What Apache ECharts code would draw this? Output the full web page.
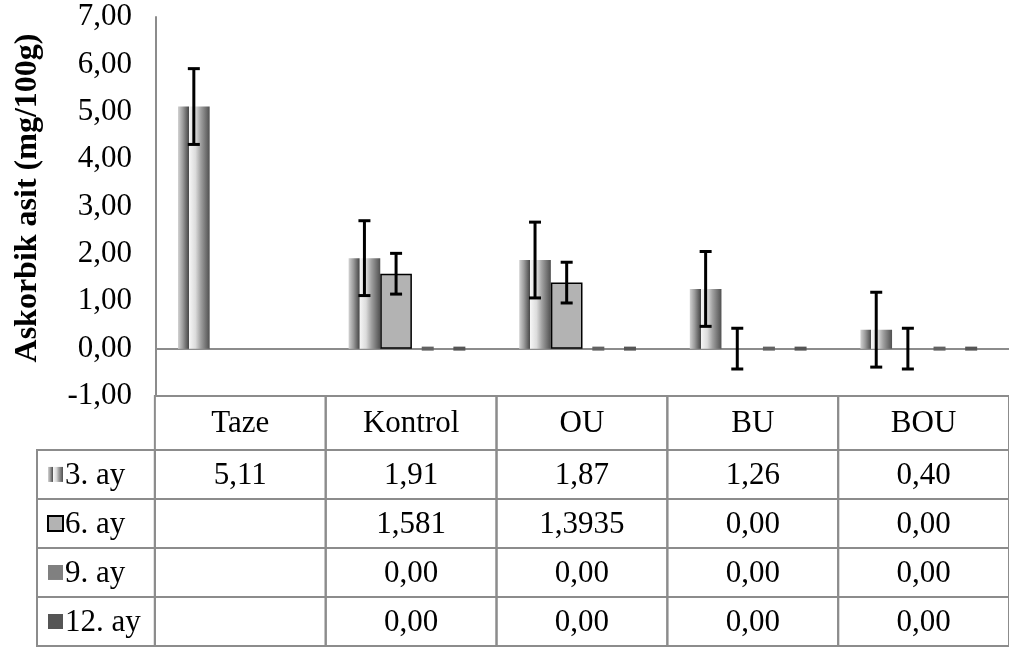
<!DOCTYPE html>
<html><head><meta charset="utf-8">
<script src="https://cdn.jsdelivr.net/npm/echarts@6/dist/echarts.min.js"></script>
<style>html,body{margin:0;padding:0;background:#fff}#c{width:1009px;height:650px}</style>
</head><body><div id="c"></div>
<script>
// ---- data ----
const categories = ['Taze', 'Kontrol', 'OU', 'BU', 'BOU'];
const seriesNames = ['3. ay', '6. ay', '9. ay', '12. ay'];
const ay3 = [5.11, 1.91, 1.87, 1.26, 0.40];
const ay6 = [null, 1.581, 1.3935, 0, 0];
const ay9 = [null, 0, 0, 0, 0];
const ay12 = [null, 0, 0, 0, 0];
const err3 = [0.80, 0.79, 0.80, 0.79, 0.79];
const err6 = [null, 0.43, 0.43, 0.43, 0.43];
const yMin = -1, yMax = 7, yStep = 1;
const yTitle = 'Askorbik asit (mg/100g)';

// ---- style ----
const FONT = '"Liberation Serif", "Times New Roman", serif';
const GAP = 0.258;
const GRID_LINE = '#8c8c8c';
const grad = () => new echarts.graphic.LinearGradient(0, 0, 1, 0, [
  {offset: 0, color: '#d2d2d2'},
  {offset: 0.15, color: '#9c9c9c'},
  {offset: 0.31, color: '#555555'},
  {offset: 0.34, color: '#4a4a4a'},
  {offset: 0.35, color: '#f6f6f6'},
  {offset: 0.55, color: '#dcdcdc'},
  {offset: 0.72, color: '#a0a0a0'},
  {offset: 1, color: '#505050'}
]);
const seriesData = [ay3, ay6, ay9, ay12];
const errData = [err3, err6, null, null];
const fills = [grad(), '#b3b3b3', '#808080', '#555555'];
const dashColors = [null, null, '#626262', '#555555'];

function fmt(v) {
  let s = v.toFixed(2);
  if (Number(s) !== v) s = String(v);
  return s.replace('.', ',');
}

// table cells
const cells = [];
categories.forEach((c, i) => cells.push({col: i, row: 0, text: c}));
seriesNames.forEach((n, s) => {
  cells.push({col: -1, row: s + 1, text: n, icon: s});
  seriesData[s].forEach((v, i) => cells.push({col: i, row: s + 1, text: v == null ? '' : fmt(v)}));
});
const rowTop = r => r === 0 ? 0 : 1.1 + (r - 1);
const rowBot = r => r === 0 ? 1.1 : 1.1 + r;
const LEG_W = 0.69;

const chart = echarts.init(document.getElementById('c'), null, {renderer: 'canvas'});

const bars = seriesData.map((arr, s) => ({
  type: 'bar', name: seriesNames[s], xAxisIndex: 0, yAxisIndex: 0,
  barGap: '0%', barCategoryGap: (GAP * 100) + '%',
  data: arr.map(v => (s === 1 && v === 0) ? {value: 0, itemStyle: {borderWidth: 0}} : v),
  itemStyle: s === 1 ? {color: fills[s], borderColor: '#000', borderWidth: 1.5} : {color: fills[s]},
  z: 2
}));

const errItems = [];
errData.forEach((e, s) => {
  if (!e) return;
  e.forEach((ev, i) => {
    const v = seriesData[s][i];
    if (ev != null && v != null) errItems.push([i, v, ev, s]);
  });
});

const dashItems = [];
seriesData.forEach((arr, s) => {
  if (!dashColors[s]) return;
  arr.forEach((v, i) => { if (v === 0) dashItems.push([i, 0, s]); });
});

function barCenter(api, c, v, s) {
  const catW = api.size([1, 0])[0];
  const bw = catW * (1 - GAP) / 4;
  return api.coord([c, v])[0] + (s - 1.5) * bw;
}

const option = {
  animation: false,
  backgroundColor: '#fff',
  grid: [
    {left: 156, right: -10, top: 17, bottom: 254},
    {left: 37, right: -10, top: 396, bottom: 4}
  ],
  xAxis: [
    {type: 'category', gridIndex: 0, data: categories,
     axisLine: {onZero: true, lineStyle: {color: GRID_LINE, width: 2}},
     axisTick: {show: false}, axisLabel: {show: false}, splitLine: {show: false}},
    {type: 'value', gridIndex: 1, min: -LEG_W, max: 5, show: false}
  ],
  yAxis: [
    {type: 'value', gridIndex: 0, min: yMin, max: yMax, interval: yStep,
     axisLine: {show: true, lineStyle: {color: GRID_LINE, width: 2}},
     axisTick: {show: false}, splitLine: {show: false},
     axisLabel: {margin: 24, color: '#000', fontFamily: FONT, fontSize: 31, formatter: v => fmt(v)}},
    {type: 'value', gridIndex: 1, min: 0, max: 5.1, inverse: true, show: false}
  ],
  graphic: [{
    type: 'text', x: 28, y: 198, rotation: Math.PI / 2,
    style: {text: yTitle, align: 'center', verticalAlign: 'middle',
            font: 'bold 32px ' + FONT, fill: '#000'}
  }],
  series: bars.concat([
    {
      type: 'custom', xAxisIndex: 0, yAxisIndex: 0, z: 5,
      data: errItems,
      renderItem: (params, api) => {
        const c = api.value(0), v = api.value(1), e = api.value(2), s = api.value(3);
        const cx = barCenter(api, c, v, s);
        const yt = api.coord([c, v + e])[1], yb = api.coord([c, v - e])[1];
        const st = {stroke: '#000', lineWidth: 3};
        return {type: 'group', children: [
          {type: 'line', shape: {x1: cx, y1: yt, x2: cx, y2: yb}, style: st},
          {type: 'line', shape: {x1: cx - 6, y1: yt, x2: cx + 6, y2: yt}, style: st},
          {type: 'line', shape: {x1: cx - 6, y1: yb, x2: cx + 6, y2: yb}, style: st}
        ]};
      }
    },
    {
      type: 'custom', xAxisIndex: 0, yAxisIndex: 0, z: 4,
      data: dashItems,
      renderItem: (params, api) => {
        const c = api.value(0), v = api.value(1), s = api.value(2);
        const cx = barCenter(api, c, v, s);
        const y = api.coord([c, v])[1];
        return {type: 'rect', shape: {x: cx - 6, y: y - 2, width: 12, height: 4},
                style: {fill: dashColors[s]}};
      }
    },
    {
      type: 'custom', xAxisIndex: 1, yAxisIndex: 1, z: 3,
      data: cells.map((c, k) => [c.col === -1 ? -LEG_W / 2 : c.col + 0.5, c.row + 0.5, k]),
      renderItem: (params, api) => {
        const cell = cells[api.value(2)];
        const xa = cell.col === -1 ? -LEG_W : cell.col;
        const xb = cell.col === -1 ? 0 : cell.col + 1;
        const p0 = api.coord([xa, rowTop(cell.row)]);
        const p1 = api.coord([xb, rowBot(cell.row)]);
        const x = p0[0], y = p0[1], w = p1[0] - p0[0], h = p1[1] - p0[1];
        const ch = [
          {type: 'rect', shape: {x, y, width: w, height: h},
           style: {fill: 'none', stroke: GRID_LINE, lineWidth: 2}}
        ];
        const font = '31px ' + FONT;
        if (cell.icon != null) {
          const s = cell.icon;
          ch.push({type: 'rect', shape: {x: x + 11, y: y + h / 2 - 7.5, width: 15, height: 15},
                   style: s === 1 ? {fill: fills[s], stroke: '#000', lineWidth: 2} : {fill: fills[s]}});
          ch.push({type: 'text', style: {text: cell.text, x: x + 28, y: y + h / 2 + 1,
                   align: 'left', verticalAlign: 'middle', font, fill: '#000'}});
        } else if (cell.text) {
          ch.push({type: 'text', style: {text: cell.text, x: x + w / 2, y: y + h / 2 + 1,
                   align: 'center', verticalAlign: 'middle', font, fill: '#000'}});
        }
        return {type: 'group', children: ch};
      }
    }
  ])
};
chart.setOption(option);
</script>
</body></html>
